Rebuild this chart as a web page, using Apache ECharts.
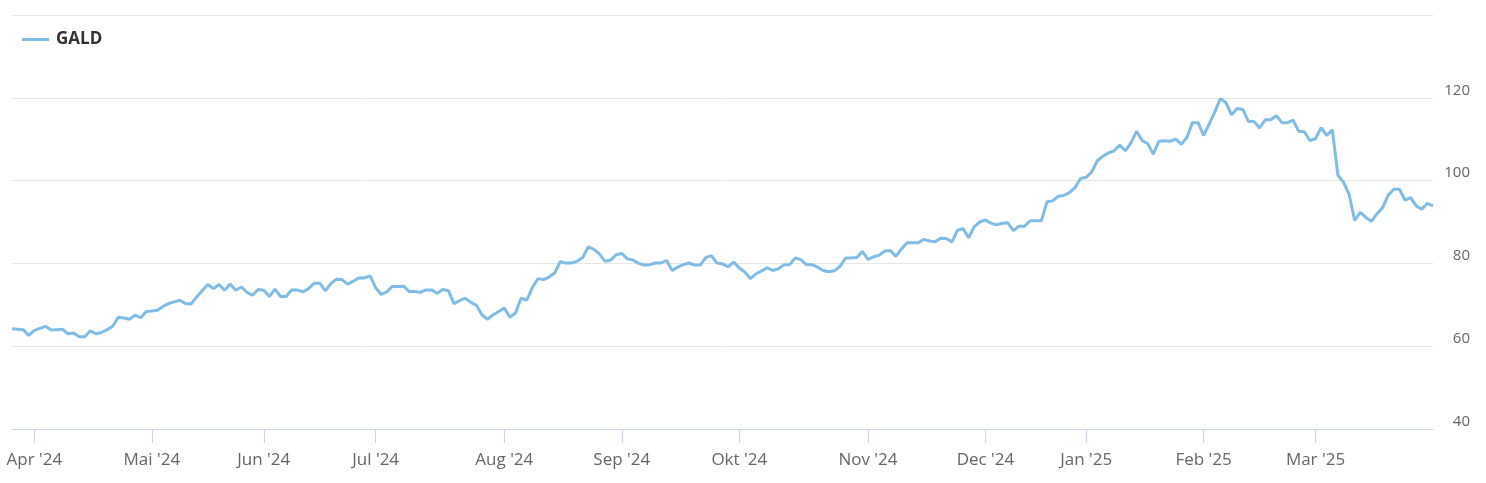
<!DOCTYPE html>
<html>
<head>
<meta charset="utf-8">
<script src="https://cdn.jsdelivr.net/npm/echarts@6/dist/echarts.min.js"></script>
<style>
  html, body { margin: 0; padding: 0; background: #ffffff; }
  #chart { width: 1486px; height: 483px; }
</style>
</head>
<body>
<div id="chart"></div>
<script>
// Trading calendar (SIX Swiss Exchange) used as category axis
const startDate = '2024-03-22';
const endDate = '2025-03-31';
const holidays = ['2024-03-29','2024-04-01','2024-05-01','2024-05-09','2024-05-20','2024-08-01',
  '2024-12-24','2024-12-25','2024-12-26','2024-12-31','2025-01-01','2025-01-02'];
const monthNames = ['Jan','Feb','Mar','Apr','Mai','Jun','Jul','Aug','Sep','Okt','Nov','Dec'];
const seriesName = 'GALD';
const yTicks = [40, 60, 80, 100, 120, 140];

// Closing prices
const galdValues = [
  64.2, 64.1, 64.0, 62.6, 63.8, 64.3, 64.8, 63.9, 64.0, 64.1,
  63.0, 63.2, 62.3, 62.3, 63.7, 63.0, 63.3, 64.0, 64.8, 67.0,
  66.8, 66.5, 67.5, 66.9, 68.4, 68.5, 68.7, 69.6, 70.3, 70.7,
  71.1, 70.3, 70.2, 71.9, 73.4, 74.9, 73.9, 74.9, 73.5, 75.0,
  73.5, 74.3, 73.0, 72.3, 73.7, 73.5, 72.0, 73.8, 72.0, 72.0,
  73.6, 73.6, 73.1, 73.9, 75.2, 75.2, 73.4, 75.1, 76.2, 76.1,
  75.0, 75.7, 76.5, 76.5, 77.0, 74.1, 72.5, 73.1, 74.5, 74.4,
  74.5, 73.2, 73.2, 73.0, 73.6, 73.6, 72.8, 73.7, 73.4, 70.3,
  71.0, 71.6, 70.6, 69.9, 67.6, 66.5, 67.6, 68.4, 69.2, 67.0,
  68.0, 71.6, 71.1, 74.1, 76.3, 76.1, 76.7, 77.7, 80.4, 80.1,
  80.1, 80.5, 81.4, 84.0, 83.4, 82.3, 80.5, 80.8, 82.1, 82.4,
  81.1, 80.8, 80.0, 79.6, 79.7, 80.1, 80.1, 80.7, 78.3, 79.1,
  79.7, 80.1, 79.6, 79.6, 81.4, 81.9, 80.1, 79.9, 79.2, 80.3,
  78.9, 77.9, 76.3, 77.5, 78.2, 78.9, 78.3, 78.7, 79.7, 79.7,
  81.3, 80.9, 79.7, 79.7, 79.1, 78.3, 78.0, 78.2, 79.3, 81.3,
  81.3, 81.4, 82.9, 81.0, 81.6, 82.0, 83.0, 83.1, 81.7, 83.5,
  85.0, 85.0, 85.0, 85.8, 85.4, 85.2, 86.1, 86.0, 85.2, 88.0,
  88.4, 86.2, 88.9, 90.0, 90.5, 89.7, 89.3, 89.7, 89.8, 87.9,
  89.0, 89.0, 90.3, 90.3, 90.3, 94.9, 95.1, 96.2, 96.4, 97.1,
  98.3, 100.5, 100.8, 102.1, 104.8, 105.9, 106.7, 107.2, 108.6, 107.2,
  109.1, 111.9, 109.7, 108.9, 106.4, 109.5, 109.6, 109.5, 110.0, 108.8,
  110.4, 114.0, 114.0, 110.9, 113.7, 116.6, 119.8, 118.8, 115.9, 117.4,
  117.2, 114.3, 114.3, 112.7, 114.7, 114.7, 115.7, 114.0, 114.0, 114.6,
  111.9, 111.8, 109.7, 110.1, 112.8, 110.9, 112.3, 101.3, 99.6, 96.7,
  90.4, 92.3, 91.1, 90.2, 92.0, 93.5, 96.5, 97.9, 97.9, 95.3,
  95.9, 93.9, 93.1, 94.5, 93.9
];

function buildTradingDays(start, end, skip) {
  const out = [];
  const d = new Date(start + 'T00:00:00Z');
  const e = new Date(end + 'T00:00:00Z');
  while (d <= e) {
    const iso = d.toISOString().slice(0, 10);
    const wd = d.getUTCDay();
    if (wd !== 0 && wd !== 6 && skip.indexOf(iso) < 0) out.push(iso);
    d.setUTCDate(d.getUTCDate() + 1);
  }
  return out;
}
const dates = buildTradingDays(startDate, endDate, holidays);

// Month boundary: tick sits at the last trading day before a new month
function isMonthBoundary(idx) {
  return idx < dates.length - 1 && dates[idx].slice(5, 7) !== dates[idx + 1].slice(5, 7);
}
function monthLabel(idx) {
  const next = dates[idx + 1] || dates[idx];
  return monthNames[parseInt(next.slice(5, 7), 10) - 1] + " '" + next.slice(2, 4);
}

const chart = echarts.init(document.getElementById('chart'), null, { renderer: 'canvas' });
chart.setOption({
  animation: false,
  backgroundColor: '#ffffff',
  textStyle: { fontFamily: '"Open Sans", "Noto Sans", sans-serif' },
  legend: {
    left: 22,
    top: 31,
    padding: 0,
    icon: 'rect',
    itemWidth: 27,
    itemHeight: 3,
    textStyle: { fontSize: 17, fontWeight: 'bold', color: '#333333', fontFamily: '"Open Sans", sans-serif', padding: [0, 0, 0, 2] },
    data: [seriesName]
  },
  grid: { left: 12, right: 53, top: 15, bottom: 54, containLabel: false },
  xAxis: {
    type: 'category',
    data: dates,
    boundaryGap: false,
    axisLine: { lineStyle: { color: '#ccd6eb', width: 1 } },
    axisTick: { show: true, interval: (i) => isMonthBoundary(i), length: 14, lineStyle: { color: '#ccd6eb' } },
    axisLabel: {
      interval: (i) => isMonthBoundary(i),
      margin: 23,
      fontSize: 17,
      color: '#666666',
      fontFamily: '"Open Sans", sans-serif',
      formatter: (v, i) => monthLabel(i)
    },
    splitLine: { show: false }
  },
  yAxis: {
    type: 'value',
    position: 'right',
    min: yTicks[0],
    max: yTicks[yTicks.length - 1],
    interval: 20,
    axisLine: { show: false },
    axisTick: { show: false },
    axisLabel: {
      showMaxLabel: false,
      align: 'right',
      verticalAlign: 'bottom',
      margin: 37,
      fontSize: 15,
      color: '#666666',
      fontFamily: '"Open Sans", sans-serif'
    },
    splitLine: { lineStyle: { color: '#e6e6e6', width: 1 } }
  },
  series: [{
    name: seriesName,
    type: 'line',
    data: galdValues,
    showSymbol: false,
    symbol: 'none',
    lineStyle: { color: '#80bce6', width: 3 },
    itemStyle: { color: '#80bce6' }
  }]
});
</script>
</body>
</html>
